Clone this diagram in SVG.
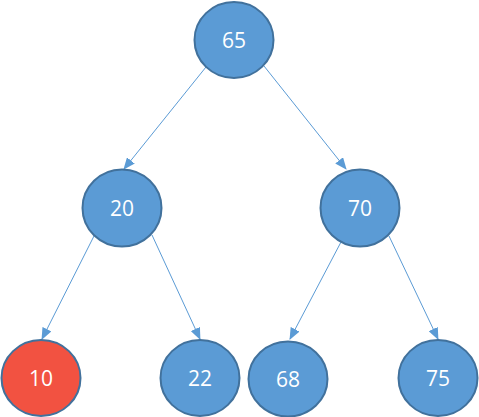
<svg xmlns="http://www.w3.org/2000/svg" width="479" height="417" viewBox="0 0 479 417">
<style>
.n{fill:#5B9BD5;stroke:#41719C;stroke-width:2}
.r{fill:#F25241;stroke:#41719C;stroke-width:2}
.t{font-family:"Open Sans","Liberation Sans",sans-serif;font-size:21px;fill:#FFFFFF;text-anchor:middle;dominant-baseline:central}
.c{stroke:#5B9BD5;stroke-width:1;fill:none;marker-end:url(#ah)}
</style>
<defs>
<marker id="ah" markerWidth="12" markerHeight="10" refX="11" refY="5" orient="auto" markerUnits="userSpaceOnUse">
<path d="M0,0 L12,5 L0,10 Z" fill="#5B9BD5"/>
</marker>
</defs>
<rect width="479" height="417" fill="#FFFFFF"/>
<g id="connectors">
<line class="c" x1="206" y1="67" x2="124" y2="169"/>
<line class="c" x1="264" y1="66" x2="346" y2="169"/>
<line class="c" x1="94" y1="236" x2="42" y2="339"/>
<line class="c" x1="152" y1="235" x2="200" y2="339"/>
<line class="c" x1="341" y1="242" x2="290" y2="339"/>
<line class="c" x1="389" y1="236" x2="438" y2="339"/>
</g>
<g id="n65"><ellipse class="n" cx="234" cy="40" rx="39.5" ry="38"/><text class="t" x="234" y="40">65</text></g>
<g id="n20"><ellipse class="n" cx="122" cy="208" rx="39.5" ry="38.5"/><text class="t" x="122" y="208">20</text></g>
<g id="n70"><ellipse class="n" cx="360" cy="208" rx="39.5" ry="38.5"/><text class="t" x="360" y="208">70</text></g>
<g id="n10"><ellipse class="r" cx="41" cy="378" rx="39.5" ry="38"/><text class="t" x="41" y="378">10</text></g>
<g id="n22"><ellipse class="n" cx="200" cy="378" rx="39.5" ry="38"/><text class="t" x="200" y="378">22</text></g>
<g id="n68"><ellipse class="n" cx="288" cy="379" rx="39.5" ry="37.5"/><text class="t" x="288" y="379">68</text></g>
<g id="n75"><ellipse class="n" cx="438" cy="378" rx="39.5" ry="38"/><text class="t" x="438" y="378">75</text></g>
</svg>
